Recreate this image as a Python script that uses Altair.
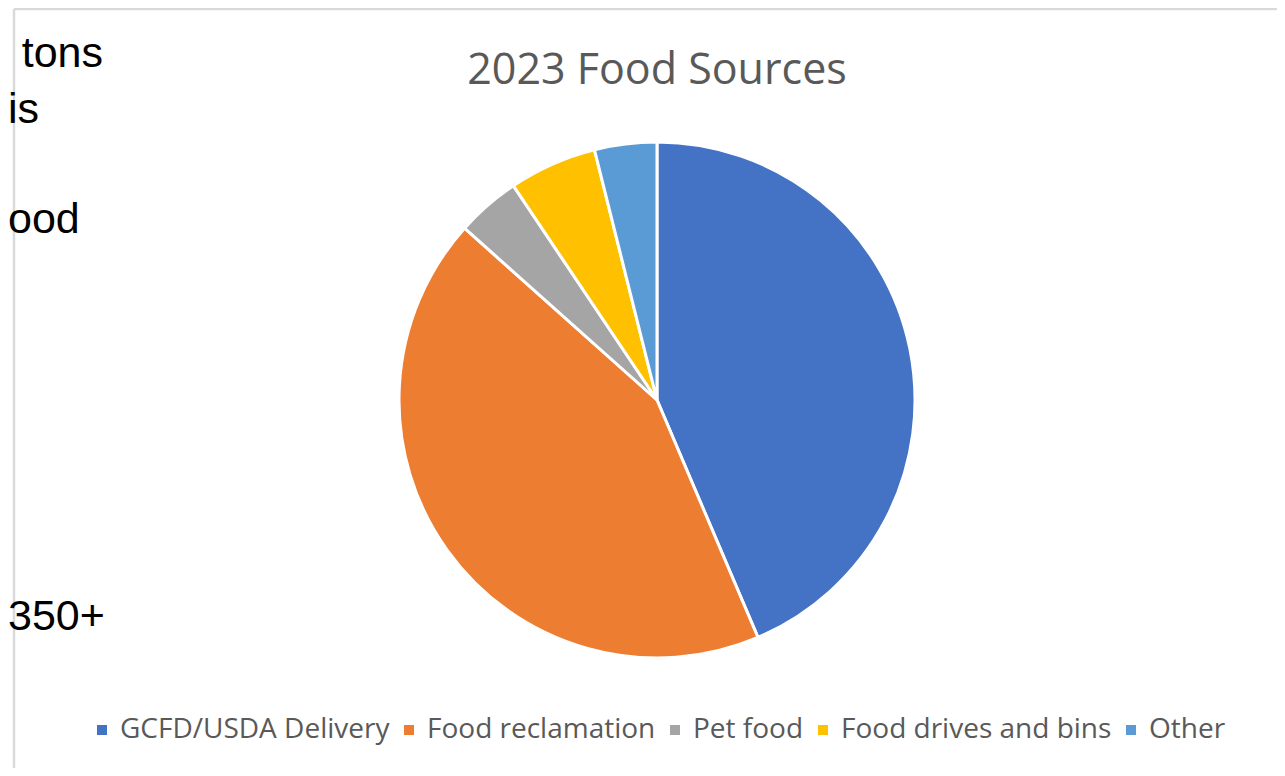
import altair as alt
import pandas as pd

# ---- data ----
categories = ["GCFD/USDA Delivery", "Food reclamation", "Pet food", "Food drives and bins", "Other"]
shares = [43.6, 43.0, 4.0, 5.5, 3.9]
colors = ["#4472C4", "#ED7D31", "#A5A5A5", "#FFC000", "#5B9BD5"]
title_text = ["2023 Food Sources"]
side_texts = ["tons", "is", "ood", "350+"]

W, H = 1269, 760
CX, CY, R = 649, 392, 258

df = pd.DataFrame({"source": categories, "share": shares, "order": list(range(len(categories)))})
one = pd.DataFrame({"a": [0]})

pie = alt.Chart(df).mark_arc(outerRadius=R, stroke="white", strokeWidth=3).encode(
    theta=alt.Theta("share:Q", stack=True),
    order=alt.Order("order:Q"),
    color=alt.Color(
        "source:N",
        sort=categories,
        scale=alt.Scale(domain=categories, range=colors),
        legend=alt.Legend(
            orient="none", direction="horizontal", legendX=80, legendY=708,
            title=None, symbolType="square", symbolSize=100, symbolStrokeWidth=0,
            labelFont="Open Sans", labelFontSize=28, labelColor="#595959",
            labelOffset=4, columnPadding=5, labelLimit=600,
        ),
    ),
    x=alt.value(CX),
    y=alt.value(CY),
)

title = alt.Chart(pd.DataFrame({"t": title_text})).mark_text(
    font="Open Sans", fontSize=43, color="#595959", align="center", baseline="alphabetic"
).encode(text="t:N", x=alt.value(CX), y=alt.value(76))

# left-hand slide text fragments (positions and alignments in layout code)
side_pos = [(95, 59, "right"), (0, 115, "left"), (0, 225, "left"), (0, 622, "left")]
side_layers = []
for txt, (px, py, al) in zip(side_texts, side_pos):
    side_layers.append(
        alt.Chart(pd.DataFrame({"t": [txt]})).mark_text(
            font="Liberation Sans", fontSize=43, color="#000000", align=al, baseline="alphabetic"
        ).encode(text="t:N", x=alt.value(px), y=alt.value(py))
    )

top_rule = alt.Chart(one).mark_rule(color="#d9d9d9", strokeWidth=2.5).encode(
    x=alt.value(6), x2=alt.value(W), y=alt.value(1)
)
left_rule = alt.Chart(one).mark_rule(color="#d9d9d9", strokeWidth=2.5).encode(
    x=alt.value(6), y=alt.value(1), y2=alt.value(H)
)

chart = alt.layer(top_rule, left_rule, pie, title, *side_layers).properties(
    width=W, height=H, padding=0, autosize=alt.AutoSizeParams(type="none"), background="white"
).configure_view(stroke=None)

chart.save("out.html", embed_options={"renderer": "svg", "actions": False})
